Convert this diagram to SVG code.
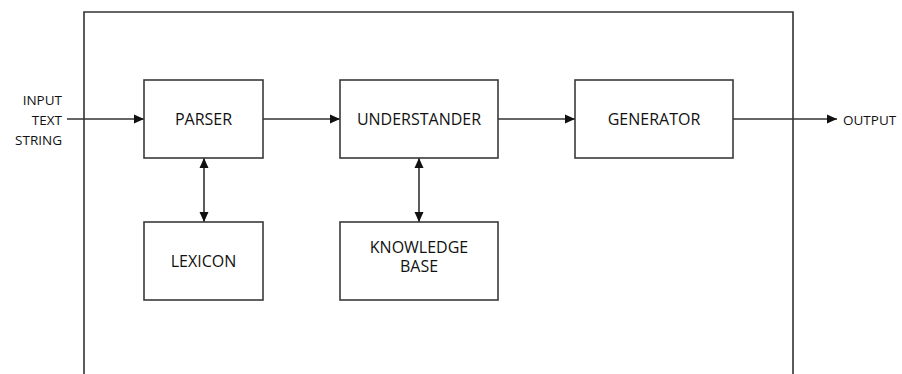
<svg xmlns="http://www.w3.org/2000/svg" width="902" height="374" viewBox="0 0 902 374">
<style>
.box{fill:#fff;stroke:#3a3a3a;stroke-width:1.6}
.ln{fill:none;stroke:#333;stroke-width:1.6}
.t{font-family:"Open Sans","Liberation Sans",sans-serif;font-size:16px;fill:#111;text-anchor:middle}
.s{font-family:"Open Sans","Liberation Sans",sans-serif;font-size:13.5px;fill:#111}
</style>
<defs>
<marker id="ah" viewBox="0 0 10 10" refX="10" refY="5" markerWidth="10" markerHeight="10" markerUnits="userSpaceOnUse" orient="auto-start-reverse">
<path d="M0,0.5 L10,5 L0,9.5 Z" fill="#111"/>
</marker>
</defs>
<rect width="902" height="374" fill="#fff"/>
<g id="system-boundary">
<polyline class="ln" points="84,380 84,12 793,12 793,380"/>
</g>
<g id="connectors">
<line class="ln" x1="67" y1="119" x2="144" y2="119" marker-end="url(#ah)"/>
<line class="ln" x1="263" y1="119" x2="340" y2="119" marker-end="url(#ah)"/>
<line class="ln" x1="498" y1="119" x2="575" y2="119" marker-end="url(#ah)"/>
<line class="ln" x1="733" y1="119" x2="837" y2="119" marker-end="url(#ah)"/>
<line class="ln" x1="204" y1="158" x2="204" y2="222" marker-start="url(#ah)" marker-end="url(#ah)"/>
<line class="ln" x1="419" y1="158" x2="419" y2="222" marker-start="url(#ah)" marker-end="url(#ah)"/>
</g>
<g id="input-label">
<text class="s" text-anchor="end" x="62" y="105">INPUT</text>
<text class="s" text-anchor="end" x="62" y="125">TEXT</text>
<text class="s" text-anchor="end" x="62" y="145">STRING</text>
</g>
<g id="output-label">
<text class="s" x="843" y="125">OUTPUT</text>
</g>
<g id="parser">
<rect class="box" x="144" y="80" width="119" height="78"/>
<text class="t" x="203.5" y="125">PARSER</text>
</g>
<g id="understander">
<rect class="box" x="340" y="80" width="158" height="78"/>
<text class="t" x="419" y="125">UNDERSTANDER</text>
</g>
<g id="generator">
<rect class="box" x="575" y="80" width="158" height="78"/>
<text class="t" x="654" y="125">GENERATOR</text>
</g>
<g id="lexicon">
<rect class="box" x="144" y="222" width="119" height="78"/>
<text class="t" x="203.5" y="267">LEXICON</text>
</g>
<g id="knowledge-base">
<rect class="box" x="340" y="222" width="158" height="78"/>
<text class="t" x="419" y="253">KNOWLEDGE</text>
<text class="t" x="419" y="272">BASE</text>
</g>
</svg>
